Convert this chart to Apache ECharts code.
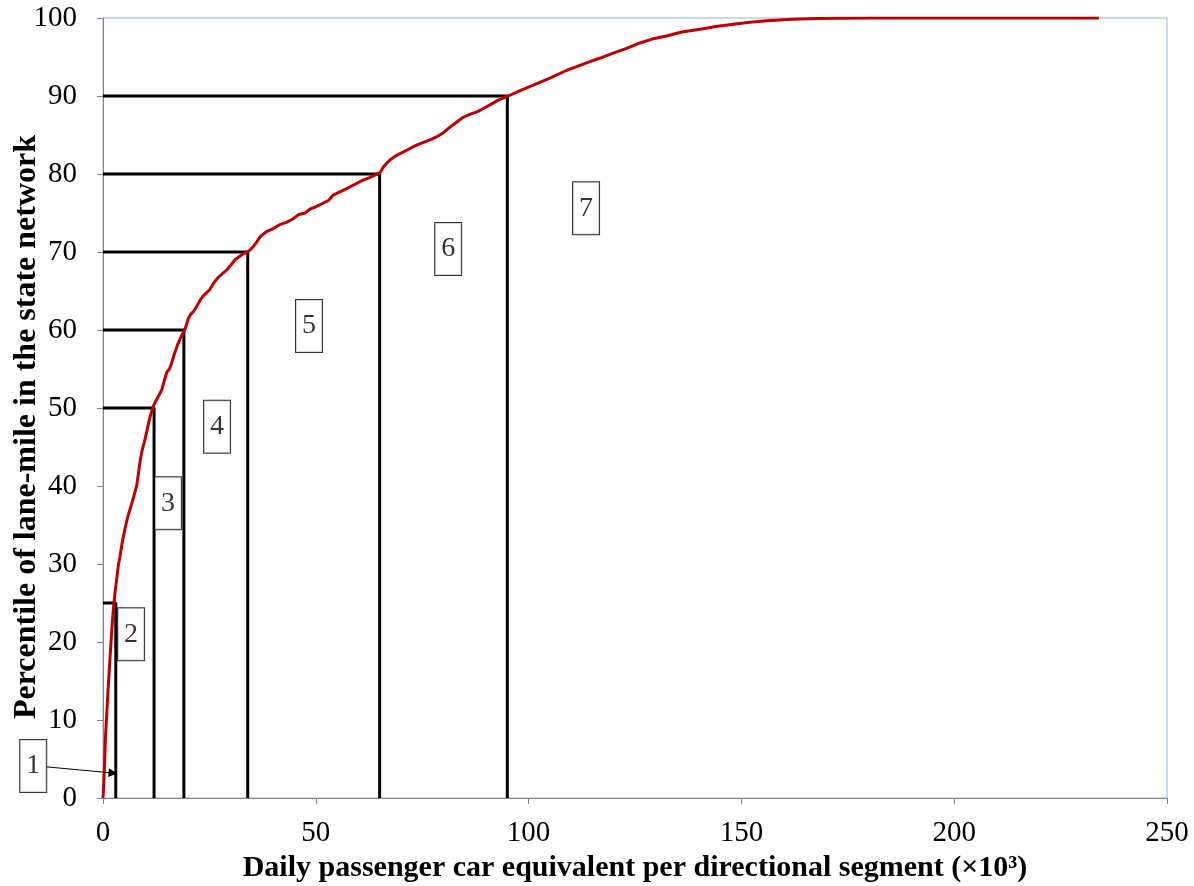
<!DOCTYPE html>
<html>
<head>
<meta charset="utf-8">
<script src="https://cdn.jsdelivr.net/npm/echarts@6/dist/echarts.min.js"></script>
<style>
html,body{margin:0;padding:0;background:#fff;}
#chart{width:1194px;height:886px;}
</style>
</head>
<body>
<div id="chart"></div>
<script>
// Cumulative distribution curve (x: daily PCE ×10^3, y: percentile)
const curveX = [0,0.2,0.4,0.6,0.9,1.2,1.6,2.0,2.4,2.8,3.2,3.6,4.0,4.6,5.2,5.8,6.5,7.2,7.9,8.3,8.8,9.3,9.7,10.3,10.8,11.3,11.8,12.5,13.2,13.8,14.4,15.0,15.6,16.1,16.8,17.6,18.3,19.0,19.4,20.0,20.6,21.3,22,22.8,23.6,24.4,25.1,26.0,27,28,29.1,30,31,32,33,34,35,36,37,38.4,40,41.5,43.1,44.5,46,47.5,48.6,50,51.5,53,54.1,56,57.5,59.6,61,62.5,64,65,66,67.4,69,70.5,72.9,75,77,78.5,80,81.5,83,84.7,86.5,88,89.4,91,93,95.2,98,101.1,105,109,111,114.4,117,119.9,123,126.2,129,132.4,136,140.3,144,148.1,152,155.9,162,167.7,180,200,220,234];
const curveY = [0,2,5,8,11,14,17.5,21,24,26.2,28,29.8,31,33,34.6,36,37.3,38.6,40,41.5,43.5,44.8,45.6,47,48.3,49.3,50.2,51,51.7,52.3,53.5,54.6,55,55.7,57,58.2,59.1,59.8,60.3,61.4,62,62.4,63,63.8,64.4,64.8,65.2,66,66.7,67.2,67.7,68.3,69,69.4,69.8,70,70.5,71.2,72,72.6,73,73.5,73.8,74.2,74.8,75.0,75.5,75.8,76.2,76.6,77.3,77.8,78.2,78.8,79.2,79.5,79.9,80.1,81,81.8,82.4,82.8,83.5,84,84.4,84.8,85.3,86,86.6,87.3,87.7,88,88.4,88.9,89.5,90.0,90.7,91.4,92.3,93.3,93.7,94.4,94.9,95.5,96.1,96.8,97.3,97.7,98.2,98.55,98.9,99.2,99.45,99.65,99.85,99.95,100,100,100,100];

// Class boundaries (x) and percentile levels (y)
const boundX = [3, 12, 19, 34, 65, 95];
const boundLevel = [25, 50, 60, 70, 80, 90];

// Class labels and their positions (data units)
const classNames = ['1','2','3','4','5','6','7'];
const classX = [-16.4, 6.6, 15.3, 26.8, 48.4, 81.1, 113.5];
const classY = [4.1, 21.0, 37.8, 47.6, 60.5, 70.4, 75.6];

// Arrow from label 1 to the first class
const arrowFrom = [-13.4, 4.0];
const arrowTo = [2.35, 3.2];

// Axis ticks
const xTicks = {min: 0, max: 250, interval: 50};
const yTicks = {min: 0, max: 100, interval: 10};

const FONT = 'Liberation Serif';

const chart = echarts.init(document.getElementById('chart'), null, {renderer: 'canvas'});

const series = [];
boundX.forEach((bx, i) => {
  series.push({
    type: 'line',
    data: [[0, boundLevel[i]], [bx, boundLevel[i]], [bx, 0]],
    symbol: 'none',
    lineStyle: {color: '#000', width: 3},
    z: 2,
    silent: true,
    animation: false
  });
});
series.push({
  type: 'line',
  data: curveX.map((x, i) => [x, curveY[i]]),
  symbol: 'none',
  lineStyle: {color: '#C00000', width: 3},
  z: 3,
  silent: true,
  animation: false
});
series.push({
  type: 'lines',
  coordinateSystem: 'cartesian2d',
  clip: false,
  data: [{coords: [arrowFrom, arrowTo]}],
  symbol: ['none', 'triangle'],
  symbolSize: [1, 9],
  lineStyle: {color: '#000', width: 1, opacity: 1},
  z: 4,
  silent: true,
  animation: false
});
series.push({
  type: 'scatter',
  clip: false,
  data: classX.map((x, i) => ({value: [x, classY[i]], name: classNames[i]})),
  symbolSize: 0,
  label: {
    show: true,
    position: 'inside',
    formatter: p => p.name,
    fontFamily: FONT,
    fontSize: 28,
    color: '#000',
    backgroundColor: '#fff',
    borderColor: '#000',
    borderWidth: 1,
    padding: [13, 6, 11, 6]
  },
  z: 5,
  silent: true,
  animation: false
});

chart.setOption({
  animation: false,
  backgroundColor: '#fff',
  grid: {left: 103, right: 27, top: 18, bottom: 88, containLabel: false, outerBoundsMode: 'none', show: true, borderColor: '#95B3D7', borderWidth: 1, backgroundColor: 'transparent'},
  xAxis: {
    type: 'value',
    min: xTicks.min, max: xTicks.max, interval: xTicks.interval,
    name: 'Daily passenger car equivalent per directional segment (×10³)',
    nameLocation: 'middle',
    nameGap: 55,
    nameMoveOverlap: false,
    nameTextStyle: {fontFamily: FONT, fontSize: 30, fontWeight: 'bold', color: '#000'},
    axisLine: {show: true, lineStyle: {color: '#868686', width: 1}},
    axisTick: {show: true, inside: false, length: 6, lineStyle: {color: '#868686'}},
    splitLine: {show: false},
    axisLabel: {fontFamily: FONT, fontSize: 29, color: '#000', margin: 21}
  },
  yAxis: {
    type: 'value',
    min: yTicks.min, max: yTicks.max, interval: yTicks.interval,
    name: 'Percentile of lane-mile in the state network',
    nameLocation: 'middle',
    nameGap: 60,
    nameMoveOverlap: false,
    nameTextStyle: {fontFamily: FONT, fontSize: 32, fontWeight: 'bold', color: '#000', padding: [0, 38, 0, 0]},
    axisLine: {show: true, lineStyle: {color: '#868686', width: 1}},
    axisTick: {show: true, inside: false, length: 6, lineStyle: {color: '#868686'}},
    splitLine: {show: false},
    axisLabel: {fontFamily: FONT, fontSize: 29, color: '#000', margin: 26}
  },
  series: series
});
</script>
</body>
</html>
